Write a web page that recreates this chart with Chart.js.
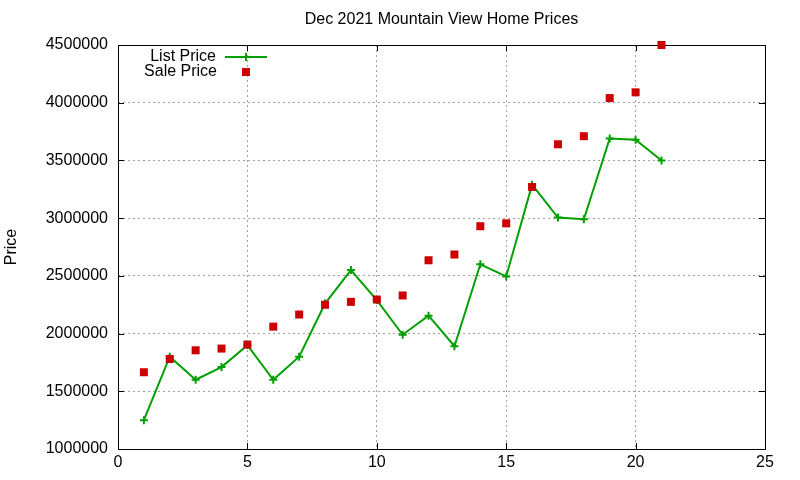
<!DOCTYPE html>
<html>
<head>
<meta charset="utf-8">
<title>Dec 2021 Mountain View Home Prices</title>
<script src="https://cdn.jsdelivr.net/npm/chart.js@4/dist/chart.umd.min.js"></script>
<style>
  html, body { margin: 0; padding: 0; background: #fff; }
  #chart { display: block; }
</style>
</head>
<body>
<canvas id="chart" width="800" height="480"></canvas>
<script>
// Data
const days = [1, 2, 3, 4, 5, 6, 7, 8, 9, 10, 11, 12, 13, 14, 15, 16, 17, 18, 19, 20, 21];
const listPrice = [1250000, 1800000, 1600000, 1710000, 1900000, 1600000, 1800000, 2260000, 2550000, 2290000,
                   1990000, 2155000, 1890000, 2600000, 2495000, 3290000, 3005000, 2990000, 3690000, 3680000, 3500000];
const salePrice = [1665000, 1780000, 1855000, 1870000, 1905000, 2060000, 2165000, 2250000, 2275000, 2295000,
                   2330000, 2635000, 2685000, 2930000, 2955000, 3270000, 3640000, 3710000, 4040000, 4090000, 4500000];
const xTicks = [0, 5, 10, 15, 20, 25];
const yTicks = [1000000, 1500000, 2000000, 2500000, 3000000, 3500000, 4000000, 4500000];

const FONT = 'Liberation Sans, Arial, sans-serif';
const GREEN = '#00a000';
const RED = '#cc0000';

function toPoints(xs, ys) {
    return xs.map((x, i) => ({ x: x, y: ys[i] }));
}

// gnuplot-like frame, inward ticks, title and legend
const gnuplotDecor = {
    id: 'gnuplotDecor',
    beforeDatasetsDraw(chart) {
        const { ctx, chartArea: a, scales } = chart;
        ctx.save();
        ctx.strokeStyle = '#000';
        ctx.lineWidth = 1;
        ctx.strokeRect(a.left + 0.5, a.top + 0.5, a.right - a.left, a.bottom - a.top);
        ctx.beginPath();
        scales.x.ticks.forEach(t => {
            const px = Math.round(scales.x.getPixelForValue(t.value)) + 0.5;
            ctx.moveTo(px, a.bottom); ctx.lineTo(px, a.bottom - 6);
            ctx.moveTo(px, a.top); ctx.lineTo(px, a.top + 6);
        });
        scales.y.ticks.forEach(t => {
            const py = Math.round(scales.y.getPixelForValue(t.value)) + 0.5;
            ctx.moveTo(a.left, py); ctx.lineTo(a.left + 6, py);
            ctx.moveTo(a.right, py); ctx.lineTo(a.right - 6, py);
        });
        ctx.stroke();
        ctx.restore();
    },
    afterDraw(chart) {
        const { ctx, chartArea: a } = chart;
        ctx.save();
        ctx.fillStyle = '#000';
        ctx.font = '16px ' + FONT;
        ctx.textAlign = 'center';
        ctx.textBaseline = 'middle';
        ctx.fillText('Dec 2021 Mountain View Home Prices', (a.left + a.right) / 2, 20);

        // legend: text right-aligned, sample to the right
        const ds = chart.data.datasets;
        ctx.textAlign = 'right';
        ctx.fillText(ds[0].label, 216, 57);
        ctx.fillText(ds[1].label, 217, 72);

        ctx.strokeStyle = ds[0].borderColor;
        ctx.lineWidth = 2;
        ctx.beginPath();
        ctx.moveTo(225, 57); ctx.lineTo(267, 57);
        ctx.moveTo(246, 53); ctx.lineTo(246, 61);
        ctx.stroke();

        ctx.fillStyle = ds[1].backgroundColor;
        ctx.fillRect(242, 68, 8, 8);
        ctx.restore();
    }
};

new Chart(document.getElementById('chart'), {
    type: 'scatter',
    data: {
        datasets: [
            {
                label: 'List Price',
                data: toPoints(days, listPrice),
                showLine: true,
                borderColor: GREEN,
                backgroundColor: GREEN,
                borderWidth: 2,
                tension: 0,
                pointStyle: 'cross',
                pointRadius: 4,
                pointBorderWidth: 2,
                pointBorderColor: GREEN,
                order: 1,
            },
            {
                label: 'Sale Price',
                data: toPoints(days, salePrice),
                showLine: false,
                backgroundColor: RED,
                borderColor: RED,
                pointStyle: 'rect',
                pointRadius: 5.66,
                pointBorderWidth: 0,
                clip: false,
                order: 0,
            },
        ],
    },
    options: {
        responsive: false,
        animation: false,
        devicePixelRatio: 1,
        layout: { padding: { left: 0, right: 35, top: 45, bottom: 0 } },
        plugins: {
            legend: { display: false },
            tooltip: { enabled: false },
            title: { display: false },
        },
        scales: {
            x: {
                type: 'linear',
                min: 0,
                max: 25,
                afterBuildTicks: s => { s.ticks = xTicks.map(v => ({ value: v })); },
                afterFit: s => { s.height = 31; },
                grid: { color: '#a0a0a0', lineWidth: 1, drawTicks: false },
                border: { display: false, dash: [2, 3] },
                ticks: {
                    padding: 4,
                    color: '#000',
                    font: { family: FONT, size: 16 },
                    callback: v => String(v),
                },
            },
            y: {
                type: 'linear',
                min: 1000000,
                max: 4500000,
                afterBuildTicks: s => { s.ticks = yTicks.map(v => ({ value: v })); },
                afterFit: s => { s.width = 118; },
                grid: { color: '#a0a0a0', lineWidth: 1, drawTicks: false },
                border: { display: false, dash: [2, 3] },
                title: {
                    display: true,
                    text: 'Price',
                    color: '#000',
                    font: { family: FONT, size: 16 },
                    padding: { top: 2, bottom: 2 },
                },
                ticks: {
                    padding: 10,
                    color: '#000',
                    font: { family: FONT, size: 16 },
                    callback: v => String(v),
                },
            },
        },
    },
    plugins: [gnuplotDecor],
});
</script>
</body>
</html>
